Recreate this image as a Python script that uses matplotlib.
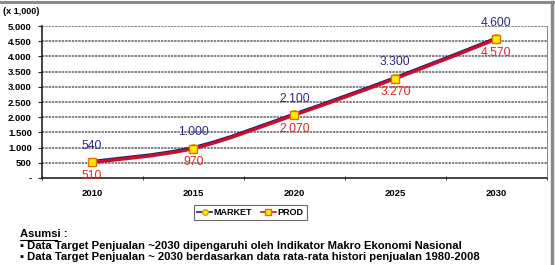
import matplotlib
matplotlib.use("Agg")
import matplotlib.pyplot as plt
import numpy as np
from matplotlib.path import Path
from matplotlib.patches import PathPatch
from matplotlib.lines import Line2D

years = ["2010", "2015", "2020", "2025", "2030"]
market = [540, 1000, 2100, 3300, 4600]
prod = [510, 970, 2070, 3270, 4570]
market_labels = ["540", "1.000", "2.100", "3.300", "4.600"]
prod_labels = ["510", "970", "2.070", "3.270", "4.570"]
ytick_vals = [0, 500, 1000, 1500, 2000, 2500, 3000, 3500, 4000, 4500, 5000]
ytick_labels = ["-", "500", "1.000", "1.500", "2.000", "2.500", "3.000",
                "3.500", "4.000", "4.500", "5.000"]
unit_label = "(x 1,000)"
notes_title = "Asumsi"
notes = ["\u25aa Data Target Penjualan ~2030 dipengaruhi oleh Indikator Makro Ekonomi Nasional",
         "\u25aa Data Target Penjualan ~ 2030 berdasarkan data rata-rata histori penjualan 1980-2008"]

FONT = ['Liberation Sans', 'DejaVu Sans']
plt.rcParams['font.family'] = FONT

W, H = 555, 265
fig = plt.figure(figsize=(W / 100, H / 100), dpi=100)

def fx(px):
    return px / W

def fy(py):
    return 1 - py / H

ax = fig.add_axes([fx(41.5), fy(178), fx(547) - fx(41.5), fy(26) - fy(178)])
x = np.arange(len(years))
ax.set_xlim(-0.5, len(years) - 0.5)
ax.set_ylim(0, 5000)

for v in ytick_vals[1:]:
    ax.axhline(v, color='#808080', lw=1.4, ls=(0, (1.2, 0.5)), zorder=1)

def smooth_path(xs, ys):
    xs = np.asarray(xs, float); ys = np.asarray(ys, float)
    verts = [(xs[0], ys[0])]
    codes = [Path.MOVETO]
    n = len(xs)
    for i in range(n - 1):
        p0 = np.array([xs[max(i - 1, 0)], ys[max(i - 1, 0)]])
        p1 = np.array([xs[i], ys[i]])
        p2 = np.array([xs[i + 1], ys[i + 1]])
        p3 = np.array([xs[min(i + 2, n - 1)], ys[min(i + 2, n - 1)]])
        c1 = p1 + (p2 - p0) / 6.0
        c2 = p2 - (p3 - p1) / 6.0
        verts += [tuple(c1), tuple(c2), tuple(p2)]
        codes += [Path.CURVE4] * 3
    return Path(verts, codes)

ax.add_patch(PathPatch(smooth_path(x, market), fill=False, edgecolor='#1a1a7a', lw=2.4, zorder=3))
ax.add_patch(PathPatch(smooth_path(x, prod), fill=False, edgecolor='#c8102e', lw=2.4, zorder=4))
ax.plot(x, market, ls='none', marker='o', ms=5.5, mfc='#ffee00', mec='#d4a000', zorder=5)
ax.plot(x, prod, ls='none', marker='s', ms=5.5, mfc='#ffee00', mec='#e07000', zorder=6)

for xi, v, lab in zip(x, market, market_labels):
    ax.annotate(lab, (xi, v), xytext=(0, 11), textcoords='offset points',
                ha='center', va='center', color='#2b2b86', fontsize=8.8)
for xi, v, lab in zip(x, prod, prod_labels):
    ax.annotate(lab, (xi, v), xytext=(0, -10), textcoords='offset points',
                ha='center', va='center', color='#d42a2a', fontsize=8.8)

ax.set_yticks(ytick_vals)
ax.set_yticklabels(ytick_labels, fontsize=6.8, fontweight='bold')
ax.set_xticks(x)
ax.set_xticklabels(years, fontsize=6.8, fontweight='bold')
ax.set_xticks(np.arange(len(years) + 1) - 0.5, minor=True)
ax.tick_params(axis='x', which='major', length=0, pad=8)
ax.tick_params(axis='x', which='minor', length=3, direction='inout', color='#222222')
ax.tick_params(axis='y', length=3, direction='out', pad=4, color='#222222')
ax.spines['top'].set_visible(False)
ax.spines['right'].set_color('#8c8c8c')
ax.spines['left'].set_color('#222222')
ax.spines['bottom'].set_color('#222222')
ax.spines['left'].set_linewidth(1.2)
ax.spines['bottom'].set_linewidth(1.2)

fig.text(fx(3), fy(11), unit_label, fontsize=6.5, fontweight='bold', va='center', ha='left')

# legend
handles = [Line2D([], [], color='#1a1a7a', lw=1.2, marker='o', ms=4, mfc='#ffee00', mec='#d4a000'),
           Line2D([], [], color='#e01010', lw=1.2, marker='s', ms=4, mfc='#ffee00', mec='#e07000')]
leg = fig.legend(handles, ["MARKET", "PROD"], loc='center',
                 bbox_to_anchor=(fx(250.5), fy(212.5)), ncol=2, frameon=True,
                 fancybox=False, edgecolor='#444444', handlelength=1.6, handletextpad=0.2,
                 columnspacing=1.0, borderpad=0.35, prop={'size': 6.5, 'weight': 'bold'})
leg.get_frame().set_linewidth(0.8)

fig.text(fx(20), fy(234), notes_title + " :", fontsize=8.1, fontweight='bold', va='center', ha='left')
fig.add_artist(Line2D([fx(20), fx(57)], [fy(239.8), fy(239.8)], color='black', lw=0.8))
fig.text(fx(20), fy(246), notes[0], fontsize=8.1, fontweight='bold', va='center', ha='left')
fig.text(fx(20), fy(257), notes[1], fontsize=8.1, fontweight='bold', va='center', ha='left')

# figure frame
fig.add_artist(Line2D([0, fx(553)], [fy(2), fy(2)], color='#8a8a8a', lw=2.2))
fig.add_artist(Line2D([fx(552), fx(552)], [fy(2), 0], color='#8a8a8a', lw=2.5))

fig.savefig("out.png", dpi=100)
